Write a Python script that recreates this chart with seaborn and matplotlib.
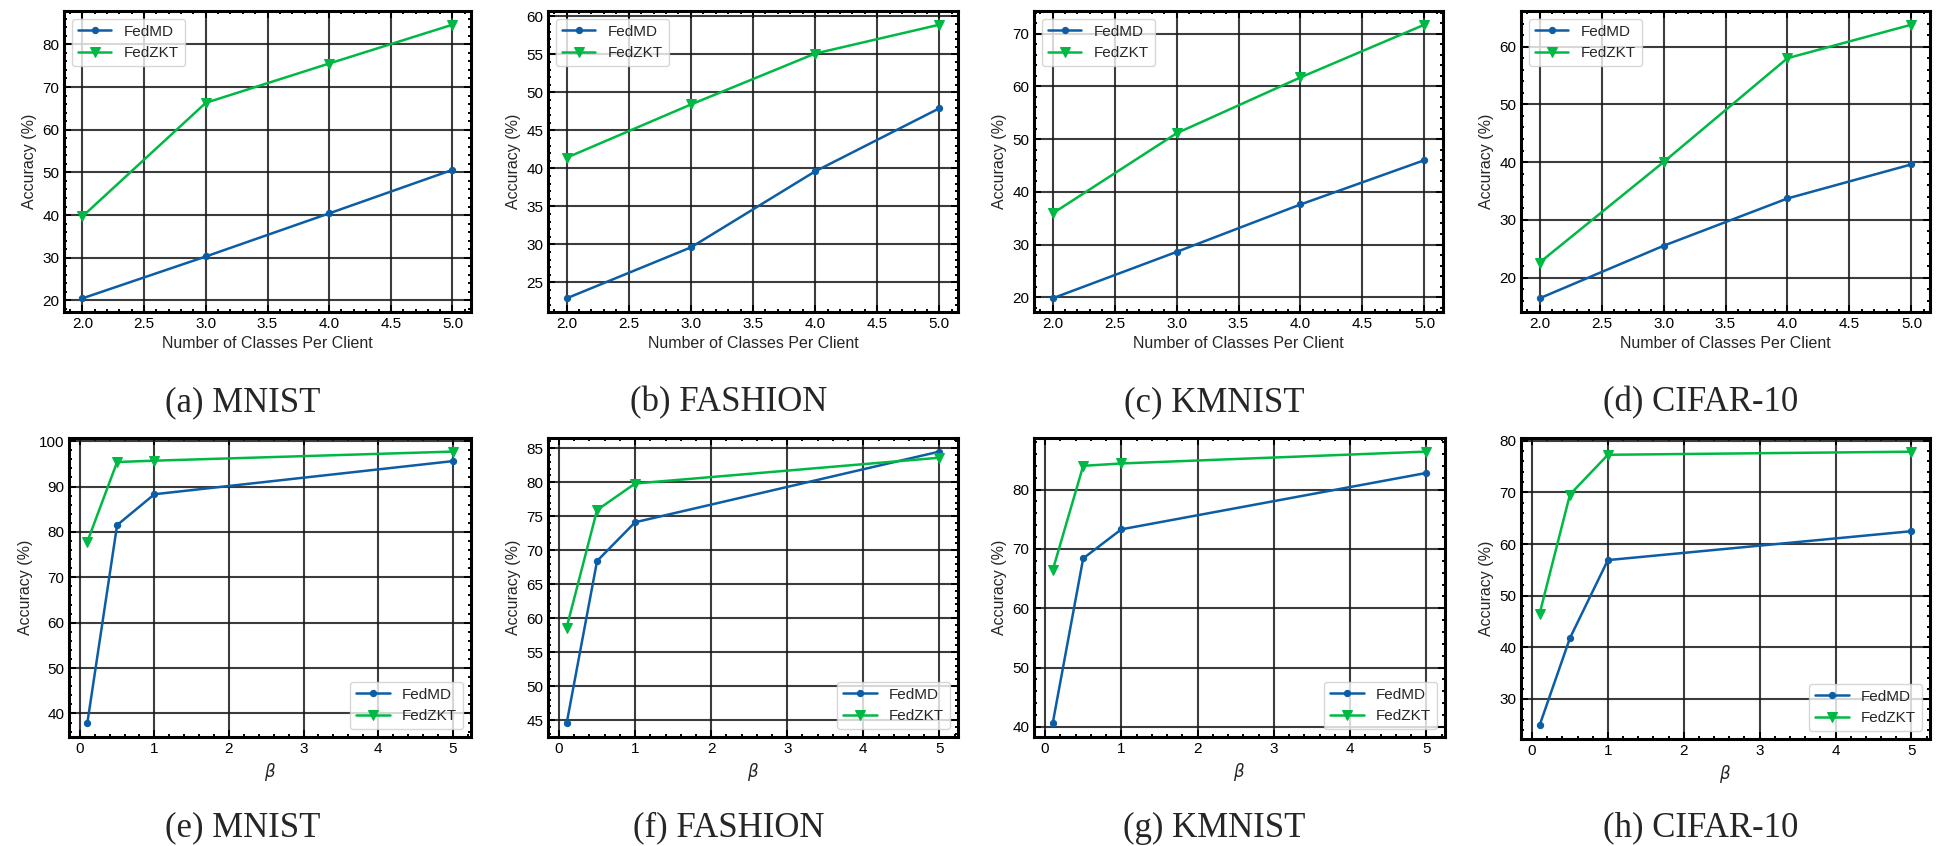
import matplotlib
matplotlib.use("Agg")
import matplotlib.pyplot as plt
import seaborn as sns
import pandas as pd
from matplotlib.ticker import AutoMinorLocator

# ---- data ----
classes = [2, 3, 4, 5]
betas = [0.1, 0.5, 1, 5]
methods = ["FedMD", "FedZKT"]
datasets = ["MNIST", "FASHION", "KMNIST", "CIFAR-10"]

# accuracy vs number of classes per client
fedmd_cls = {
    "MNIST": [20.5, 30.3, 40.4, 50.6],
    "FASHION": [22.9, 29.6, 39.6, 47.9],
    "KMNIST": [19.8, 28.6, 37.6, 46.0],
    "CIFAR-10": [16.4, 25.5, 33.7, 39.6],
}
fedzkt_cls = {
    "MNIST": [39.7, 66.3, 75.5, 84.6],
    "FASHION": [41.4, 48.4, 55.1, 58.9],
    "KMNIST": [35.9, 51.1, 61.7, 71.7],
    "CIFAR-10": [22.6, 40.0, 58.0, 63.8],
}

# accuracy vs beta
fedmd_beta = {
    "MNIST": [37.8, 81.5, 88.3, 95.6],
    "FASHION": [44.5, 68.4, 74.1, 84.5],
    "KMNIST": [40.6, 68.4, 73.3, 82.8],
    "CIFAR-10": [24.9, 41.8, 56.9, 62.5],
}
fedzkt_beta = {
    "MNIST": [77.8, 95.4, 95.7, 97.7],
    "FASHION": [58.6, 75.9, 79.8, 83.6],
    "KMNIST": [66.4, 84.0, 84.4, 86.4],
    "CIFAR-10": [46.5, 69.6, 77.3, 77.9],
}

letters_top = ["a", "b", "c", "d"]
letters_bot = ["e", "f", "g", "h"]

sns.set_style("ticks")
plt.rcParams["font.family"] = ["Liberation Sans", "DejaVu Sans"]
plt.rcParams["mathtext.fontset"] = "dejavusans"

W, H = 1939, 846
fig = plt.figure(figsize=(W / 100, H / 100), dpi=100)

colors = {"FedMD": "#0C5DA5", "FedZKT": "#00B945"}
markers = {"FedMD": "o", "FedZKT": "v"}
msizes = {"FedMD": 4.5, "FedZKT": 7}

# axes boxes in pixels: (left, right, top, bottom)
top_boxes = [(64, 471, 11, 312), (548, 958, 11, 312), (1034, 1443, 11, 312), (1521, 1930, 11, 312)]
bot_boxes = [(69, 471, 438, 737), (548, 958, 438, 737), (1034, 1445, 438, 737), (1521, 1930, 438, 739)]
cap_x = [243, 729, 1214, 1701]


def make_ax(box):
    l, r, t, b = box
    return fig.add_axes([l / W, 1 - b / H, (r - l) / W, (b - t) / H])


def style_ax(ax):
    ax.grid(True, which="major", color="#1a1a1a", linewidth=1.5, alpha=0.85)
    ax.set_axisbelow(True)
    ax.xaxis.set_minor_locator(AutoMinorLocator())
    ax.yaxis.set_minor_locator(AutoMinorLocator())
    ax.tick_params(which="both", direction="in", top=True, right=True,
                   labelsize=11, width=1.4, colors="black")
    ax.tick_params(which="major", length=5)
    ax.tick_params(which="minor", length=2.5)
    for s in ax.spines.values():
        s.set_linewidth(2.2)
        s.set_color("black")


def draw(ax, x, md, zkt, loc):
    df = pd.DataFrame({"x": x * 2, "acc": md + zkt,
                       "method": ["FedMD"] * len(x) + ["FedZKT"] * len(x)})
    for m in methods:
        sub = df[df["method"] == m]
        sns.lineplot(data=sub, x="x", y="acc", ax=ax, color=colors[m],
                     marker=markers[m], markersize=msizes[m],
                     markeredgecolor=colors[m], linewidth=1.8, label=m)
    ax.legend(loc=loc, fontsize=11, frameon=True, handlelength=2.2)
    ax.set_ylabel("Accuracy (%)", fontsize=11.5)


for i, d in enumerate(datasets):
    ax = make_ax(top_boxes[i])
    draw(ax, classes, fedmd_cls[d], fedzkt_cls[d], "upper left")
    ax.set_xlabel("Number of Classes Per Client", fontsize=11.5)
    style_ax(ax)
    fig.text(cap_x[i] / W, 1 - 403 / H, f"({letters_top[i]}) {d}",
             ha="center", va="center", fontsize=25,
             family=["Liberation Serif", "DejaVu Serif"])

    ax = make_ax(bot_boxes[i])
    draw(ax, betas, fedmd_beta[d], fedzkt_beta[d], "lower right")
    ax.set_xlabel(r"$\beta$", fontsize=12)
    style_ax(ax)
    fig.text(cap_x[i] / W, 1 - 828 / H, f"({letters_bot[i]}) {d}",
             ha="center", va="center", fontsize=25,
             family=["Liberation Serif", "DejaVu Serif"])

fig.savefig("out.png", dpi=100)
